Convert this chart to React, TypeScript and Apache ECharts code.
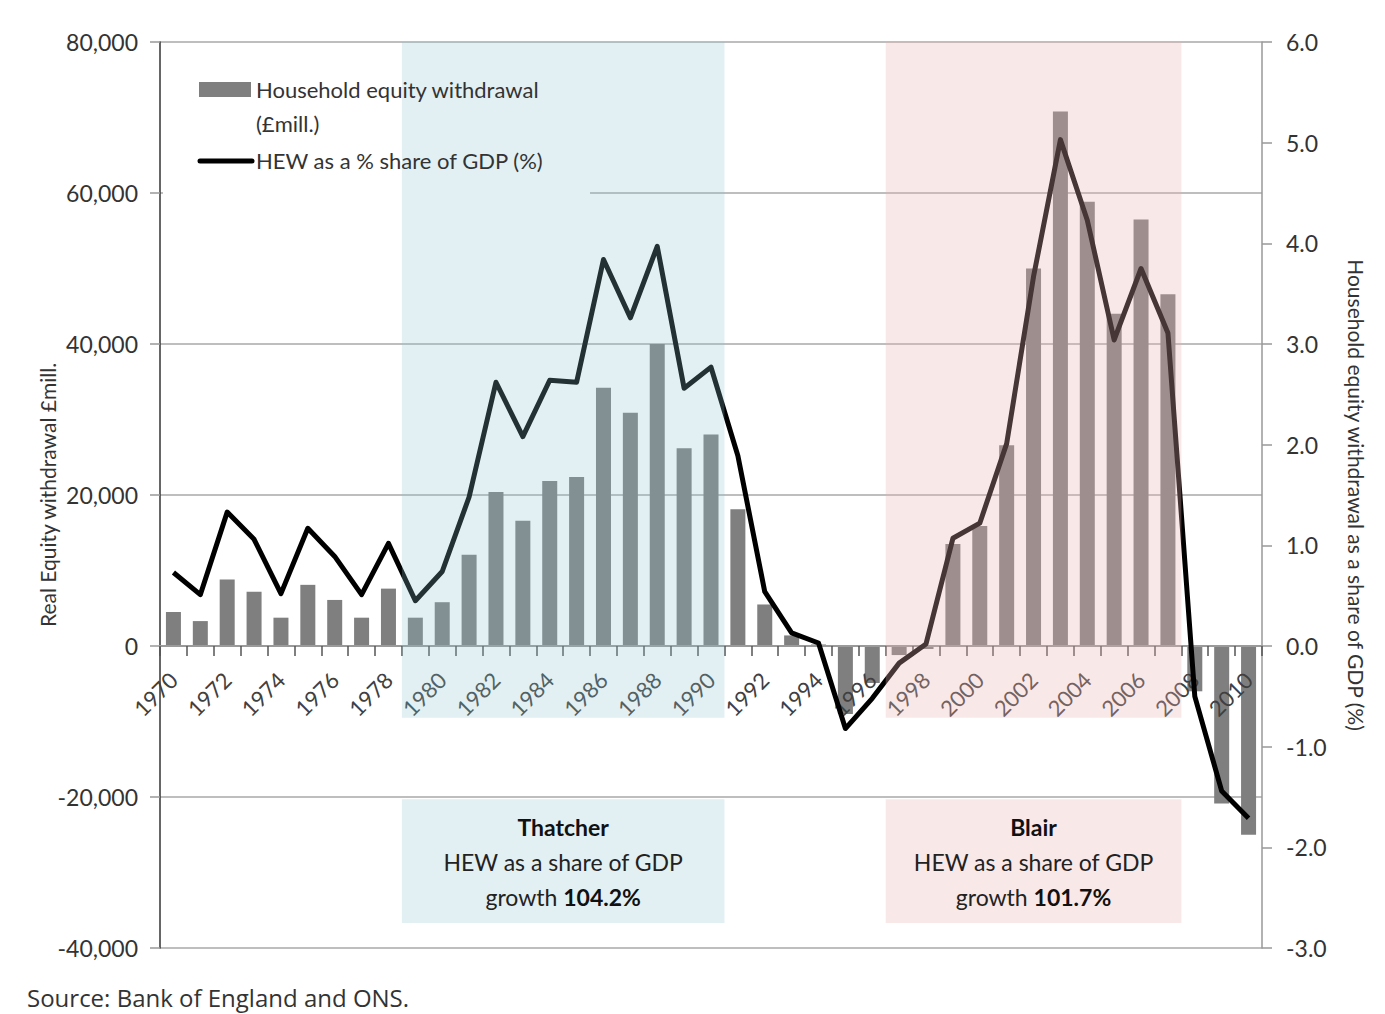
import React, { useEffect, useRef } from 'react';
import * as echarts from 'echarts';

// ---- data ----
const years = [
  '1970', '1971', '1972', '1973', '1974', '1975', '1976', '1977', '1978', '1979',
  '1980', '1981', '1982', '1983', '1984', '1985', '1986', '1987', '1988', '1989',
  '1990', '1991', '1992', '1993', '1994', '1995', '1996', '1997', '1998', '1999',
  '2000', '2001', '2002', '2003', '2004', '2005', '2006', '2007', '2008', '2009', '2010',
];

// Household equity withdrawal (£mill.)
const equityWithdrawal = [
  4500, 3300, 8800, 7200, 3750, 8100, 6100, 3750, 7600, 3750,
  5800, 12100, 20400, 16600, 21850, 22400, 34200, 30900, 40000, 26200,
  28000, 18100, 5500, 1400, 200, -9000, -4900, -1200, -400, 13500,
  15900, 26600, 50000, 70800, 58850, 44000, 56500, 46600, -6000, -20850, -25000,
];

// HEW as a % share of GDP (%)
const hewShareOfGdp = [
  0.73, 0.51, 1.33, 1.06, 0.52, 1.17, 0.89, 0.51, 1.02, 0.45,
  0.74, 1.48, 2.62, 2.08, 2.64, 2.62, 3.84, 3.26, 3.97, 2.56,
  2.77, 1.89, 0.54, 0.13, 0.03, -0.82, -0.52, -0.17, 0.02, 1.07,
  1.22, 2.01, 3.67, 5.03, 4.23, 3.04, 3.75, 3.11, -0.5, -1.44, -1.71,
];

const leftMin = -40000;
const leftMax = 80000;
const leftStep = 20000;
const rightMin = -3;
const rightMax = 6;
const rightStep = 1;

const periodNames = ['Thatcher', 'Blair'];
const periodStart = ['1979', '1997'];
const periodEnd = ['1990', '2007'];
const periodGrowth = ['104.2%', '101.7%'];
const periodShade = ['rgba(139,195,207,0.25)', 'rgba(235,180,180,0.3)'];

const seriesNames = ['Household equity withdrawal (£mill.)', 'HEW as a % share of GDP (%)'];
const leftAxisName = 'Real Equity withdrawal £mill.';
const rightAxisName = 'Household equity withdrawal as a share of GDP (%)';
const sourceText = 'Source: Bank of England and ONS.';

const FONT = 'Lato, "Open Sans", "DejaVu Sans", sans-serif';
const TEXT = '#333333';

const W = 1385;
const H = 1014;
const GRID = { left: 160, right: 123, top: 42, bottom: 66 };

export default function App() {
  const ref = useRef<HTMLDivElement>(null);

  useEffect(() => {
    if (!ref.current) return;
    const chart = echarts.init(ref.current, undefined, { renderer: 'svg' });

    // place the category axis on the zero line of the left value axis
    const plotH = H - GRID.top - GRID.bottom;
    const zeroOffset = -((0 - leftMin) / (leftMax - leftMin)) * plotH;

    const periodData = periodNames.map((_, i) => [
      years.indexOf(periodStart[i]) - 0.5,
      years.indexOf(periodEnd[i]) + 0.5,
      i,
    ]);

    const renderPeriod = (params: any, api: any) => {
      const x0 = api.value(0);
      const x1 = api.value(1);
      const i = api.value(2);
      const a = api.coord([x0, leftMax]);
      const b = api.coord([x1, -9500]);
      const c = api.coord([x0, -20300]);
      const d = api.coord([x1, -36700]);
      const fill = periodShade[i];
      return {
        type: 'group',
        children: [
          {
            type: 'rect',
            shape: { x: a[0], y: a[1], width: b[0] - a[0], height: b[1] - a[1] },
            style: { fill },
          },
          {
            type: 'rect',
            shape: { x: c[0], y: c[1], width: d[0] - c[0], height: d[1] - c[1] },
            style: { fill },
          },
          {
            type: 'text',
            style: {
              x: (c[0] + d[0]) / 2,
              y: c[1] + 10,
              align: 'center',
              verticalAlign: 'top',
              text:
                '{b|' + periodNames[i] + '}\n{n|HEW as a share of GDP}\n{n|growth }{b|' + periodGrowth[i] + '}',
              rich: {
                b: { fontFamily: FONT, fontSize: 23, fontWeight: 'bold', fill: '#111', lineHeight: 35 },
                n: { fontFamily: FONT, fontSize: 23, fill: '#222', lineHeight: 35 },
              },
            },
          },
        ],
      };
    };

    const option: any = {
      animation: false,
      backgroundColor: '#ffffff',
      textStyle: { fontFamily: FONT },
      grid: { ...GRID, containLabel: false, outerBoundsMode: 'none' },
      xAxis: [
        {
          type: 'category',
          data: years,
          boundaryGap: true,
          position: 'bottom',
          offset: zeroOffset,
          z: 3,
          axisLine: { onZero: false, lineStyle: { color: '#9a9a9a', width: 2 } },
          axisTick: { show: true, interval: 0, length: 10, lineStyle: { color: '#555', width: 1.5 } },
          axisLabel: { interval: 1, rotate: 45, margin: 30, fontSize: 22, color: '#404040', fontFamily: FONT },
          splitLine: { show: false },
        },
        { type: 'value', min: -0.5, max: years.length - 0.5, show: false },
      ],
      yAxis: [
        {
          type: 'value',
          min: leftMin,
          max: leftMax,
          interval: leftStep,
          position: 'left',
          name: leftAxisName,
          nameLocation: 'middle',
          nameGap: 102,
          nameMoveOverlap: false,
          nameRotate: 90,
          nameTextStyle: { fontSize: 21, color: TEXT, fontFamily: FONT },
          axisLine: { show: true, onZero: false, lineStyle: { color: '#333', width: 1.5 } },
          axisTick: { show: true, length: 10, lineStyle: { color: '#999', width: 1.5 } },
          axisLabel: {
            margin: 22,
            fontSize: 23,
            color: TEXT,
            fontFamily: FONT,
            formatter: (v: number) => v.toLocaleString('en-US'),
          },
          splitLine: { show: true, lineStyle: { color: '#a8a8a8', width: 1.5 } },
        },
        {
          type: 'value',
          min: rightMin,
          max: rightMax,
          interval: rightStep,
          position: 'right',
          name: rightAxisName,
          nameLocation: 'middle',
          nameGap: 84,
          nameMoveOverlap: false,
          nameRotate: -90,
          nameTextStyle: { fontSize: 21, color: TEXT, fontFamily: FONT },
          axisLine: { show: true, onZero: false, lineStyle: { color: '#999', width: 1.5 } },
          axisTick: { show: true, length: 10, lineStyle: { color: '#999', width: 1.5 } },
          axisLabel: {
            margin: 24,
            fontSize: 23,
            color: TEXT,
            fontFamily: FONT,
            formatter: (v: number) => v.toFixed(1),
          },
          splitLine: { show: false },
        },
      ],
      series: [
        {
          name: seriesNames[0],
          type: 'bar',
          xAxisIndex: 0,
          yAxisIndex: 0,
          data: equityWithdrawal,
          barWidth: 15,
          itemStyle: { color: '#7f7f7f' },
          z: 2,
        },
        {
          name: seriesNames[1],
          type: 'line',
          xAxisIndex: 0,
          yAxisIndex: 1,
          data: hewShareOfGdp,
          symbol: 'none',
          lineStyle: { color: '#000', width: 5, join: 'round' },
          z: 4,
        },
        {
          type: 'custom',
          xAxisIndex: 1,
          yAxisIndex: 0,
          data: periodData,
          renderItem: renderPeriod,
          silent: true,
          z: 5,
        },
      ],
      graphic: [
        {
          type: 'rect',
          z: 1,
          shape: { x: 163, y: 50, width: 427, height: 150 },
          style: { fill: '#ffffff' },
        },
        {
          type: 'rect',
          z: 10,
          shape: { x: 199, y: 82, width: 52, height: 15 },
          style: { fill: '#7f7f7f' },
        },
        {
          type: 'text',
          z: 10,
          style: {
            x: 256, y: 89, text: 'Household equity withdrawal', verticalAlign: 'middle',
            fontSize: 22, fontFamily: FONT, fill: TEXT,
          },
        },
        {
          type: 'text',
          z: 10,
          style: {
            x: 256, y: 123, text: '(£mill.)', verticalAlign: 'middle',
            fontSize: 22, fontFamily: FONT, fill: TEXT,
          },
        },
        {
          type: 'line',
          z: 10,
          shape: { x1: 200, y1: 161, x2: 252, y2: 161 },
          style: { stroke: '#000', lineWidth: 5, lineCap: 'round' },
        },
        {
          type: 'text',
          z: 10,
          style: {
            x: 256, y: 160, text: seriesNames[1], verticalAlign: 'middle',
            fontSize: 22, fontFamily: FONT, fill: TEXT,
          },
        },
        {
          type: 'text',
          z: 10,
          style: {
            x: 27, y: 997, text: sourceText, verticalAlign: 'middle',
            fontSize: 24, fontFamily: '"Open Sans", Lato, sans-serif', fill: TEXT,
          },
        },
      ],
    };

    chart.setOption(option);
    return () => chart.dispose();
  }, []);

  return (
    <div
      ref={ref}
      style={{ position: 'fixed', left: 0, top: 0, width: W, height: H, background: '#fff' }}
    />
  );
}
